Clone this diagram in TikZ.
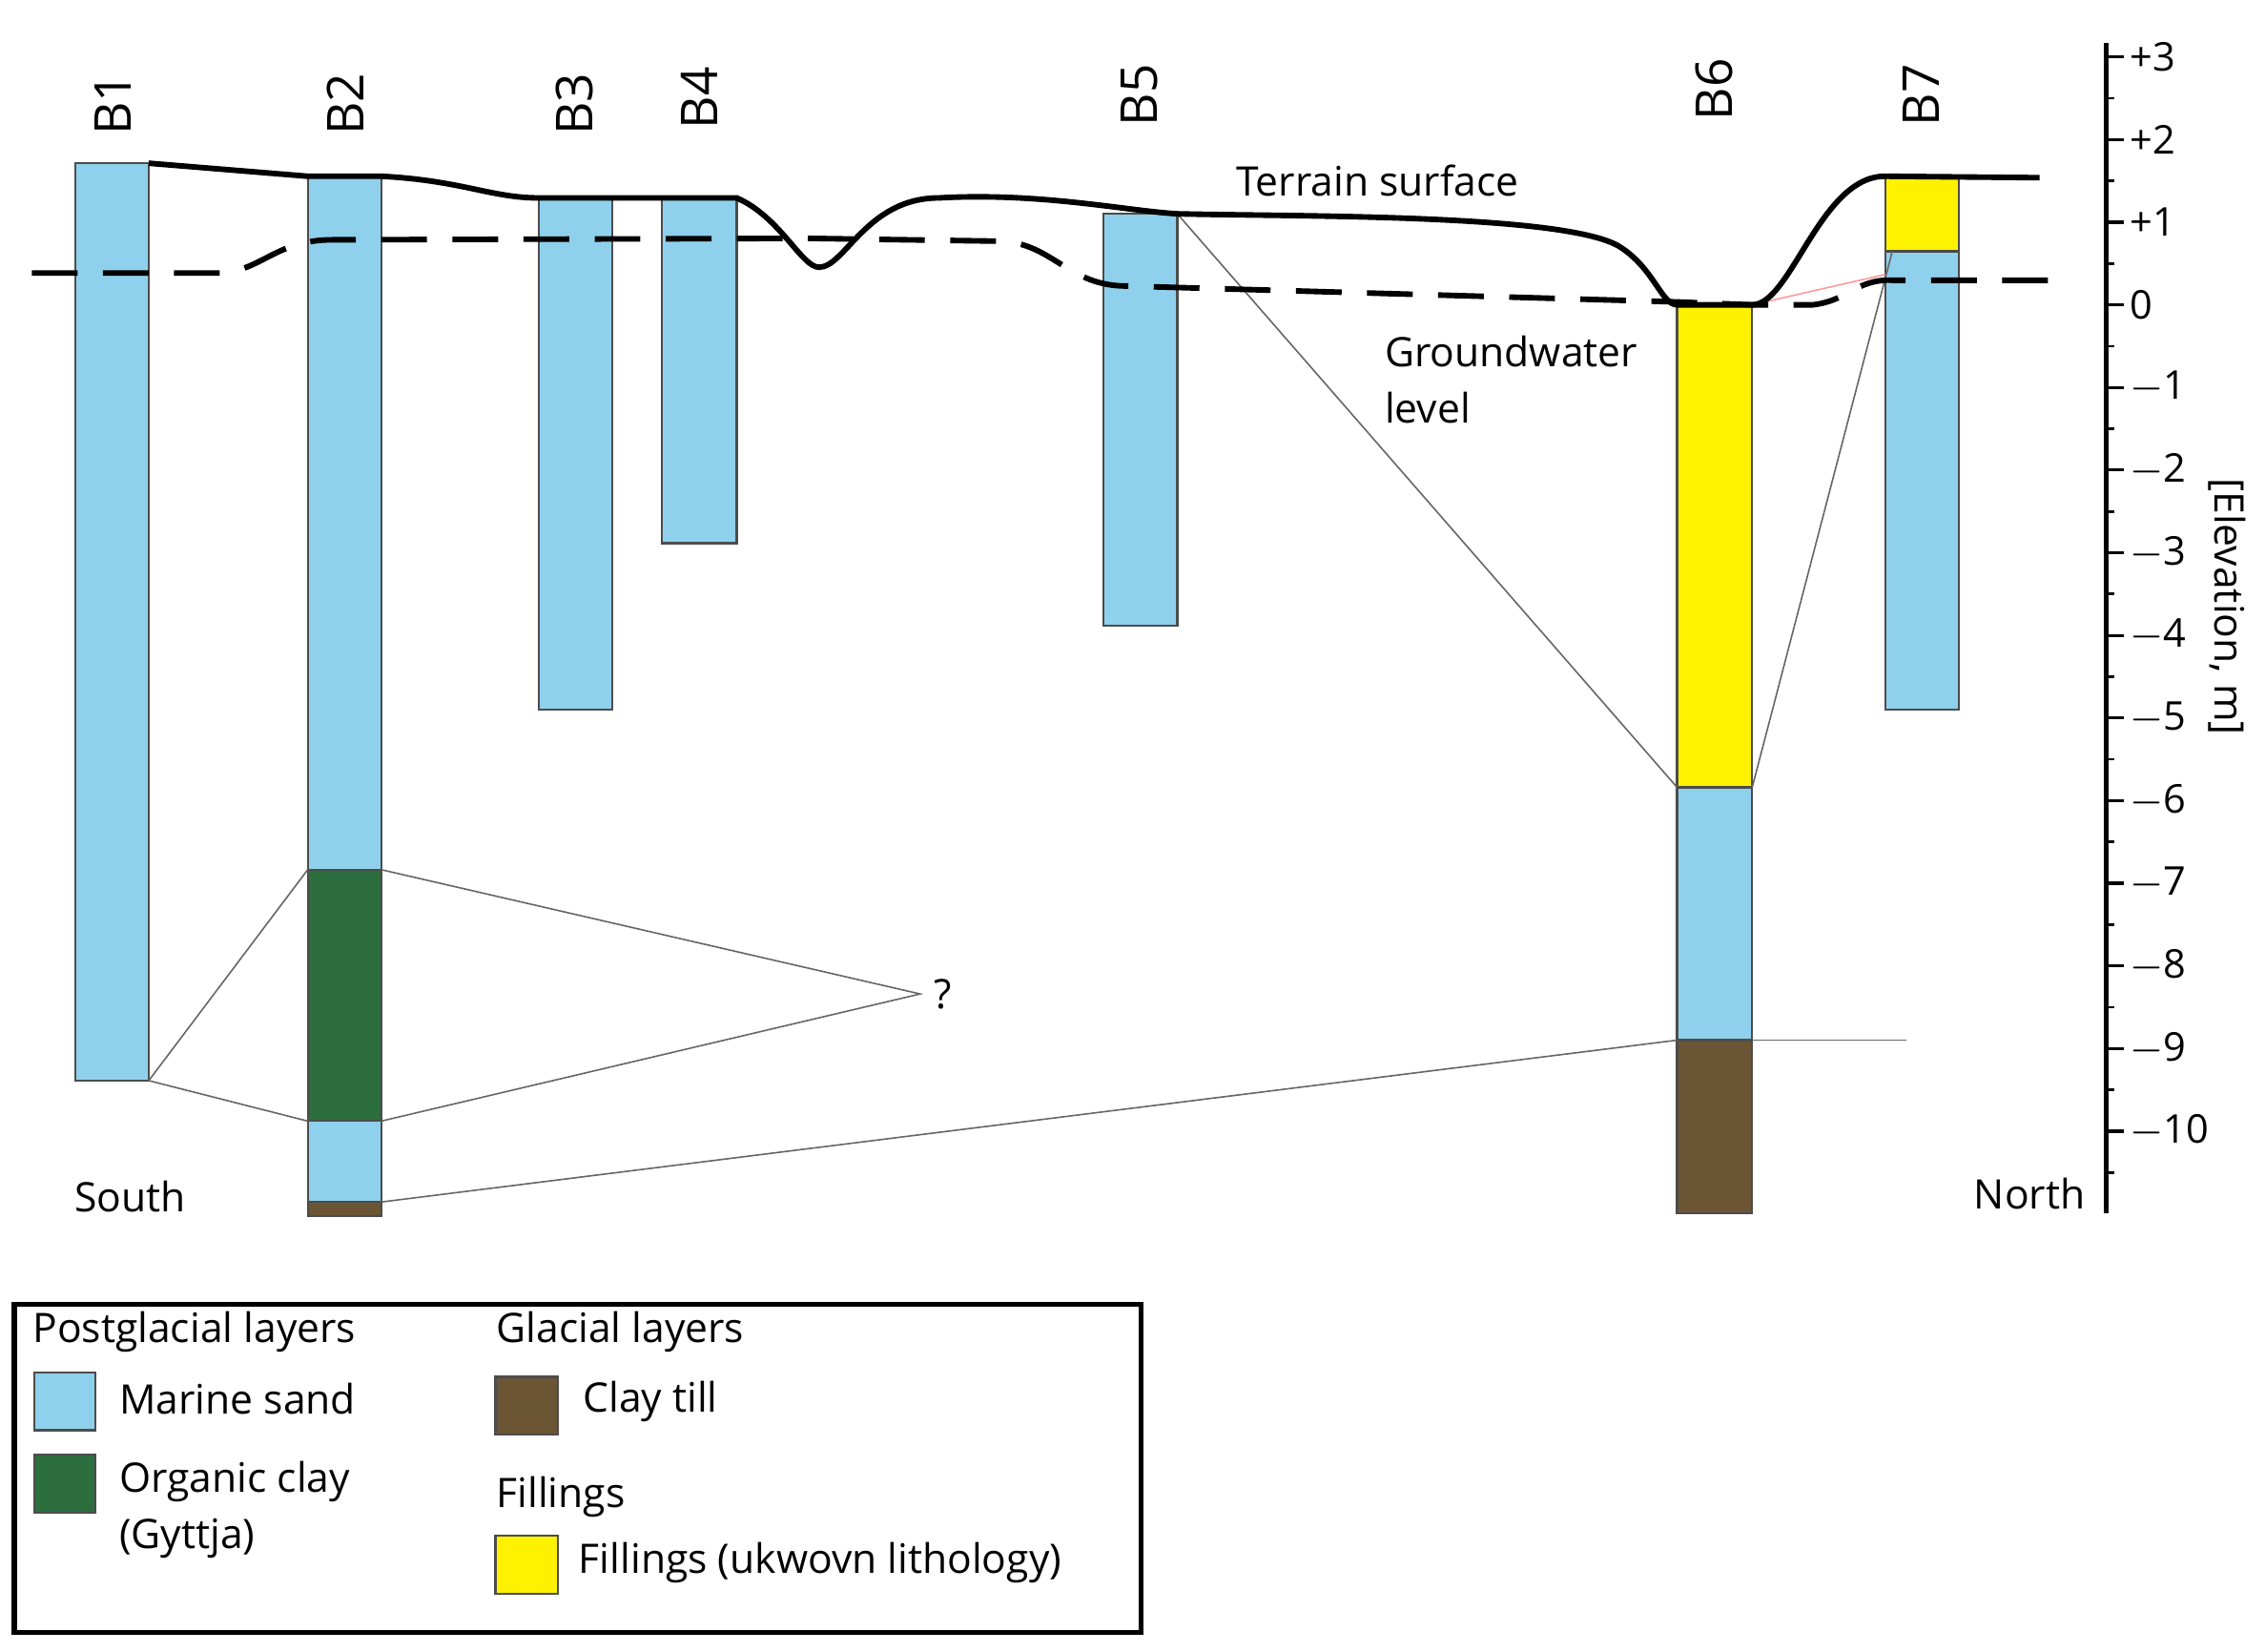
\documentclass[tikz,border=0pt]{standalone}
\usepackage{fontspec}
\setmainfont{Open Sans}
\definecolor{sand}{HTML}{8FD1EC}
\definecolor{gyt}{HTML}{2C6E3D}
\definecolor{till}{HTML}{6B5535}
\definecolor{fill}{HTML}{FFF200}
\begin{document}
\begin{tikzpicture}[x=0.01cm,y=-0.01cm,
  lay/.style={draw=black!70,line width=0.4pt},
  thin/.style={draw=black!60,line width=0.3pt},
  lbl/.style={font=\fontsize{10}{12}\selectfont,rotate=90,anchor=center},
  txt/.style={font=\fontsize{8}{11}\selectfont,inner sep=0pt},
  ax/.style={font=\fontsize{7.8}{9}\selectfont,anchor=west,inner sep=0pt}]
\useasboundingbox (0,0) rectangle (1568,1143);
% boreholes
\filldraw[lay,fill=sand] (52,113) rectangle (103,748);
\filldraw[lay,fill=sand] (213,122) rectangle (264,602);
\filldraw[lay,fill=gyt] (213,602) rectangle (264,776);
\filldraw[lay,fill=sand] (213,776) rectangle (264,832);
\filldraw[lay,fill=till] (213,832) rectangle (264,842);
\filldraw[lay,fill=sand] (373,137) rectangle (424,491);
\filldraw[lay,fill=sand] (458,137) rectangle (510,376);
\filldraw[lay,fill=sand] (764,148) rectangle (815,433);
\filldraw[lay,fill=fill] (1161,211) rectangle (1213,545);
\filldraw[lay,fill=sand] (1161,545) rectangle (1213,720);
\filldraw[lay,fill=till] (1161,720) rectangle (1213,840);
\filldraw[lay,fill=fill] (1305,122) rectangle (1356,174);
\filldraw[lay,fill=sand] (1305,174) rectangle (1356,491);
\node[lbl] (b1) at (78,72) {B1};
\node[lbl] (b2) at (239,72) {B2};
\node[lbl] (b3) at (398,72) {B3};
\node[lbl] (b4) at (484,68) {B4};
\node[lbl] (b5) at (789,66) {B5};
\node[lbl] (b6) at (1187,62) {B6};
\node[lbl] (b7) at (1330,66) {B7};
% correlation lines
\coordinate (p) at (637,688);
\draw[thin] (103,748) -- (213,602);
\draw[thin] (103,748) -- (213,776);
\draw[thin] (264,602) -- (p) -- (264,776);
\draw[thin] (264,832) -- (1161,720);
\draw[thin] (1213,720) -- (1320,720);
\draw[thin] (815,148) -- (1161,545);
\draw[thin] (1213,545) -- (1310,174);
\draw[thin,draw=red!40] (1213,211) -- (1305,190);
\node[txt,anchor=west] (q) at (646,688) {?};
% terrain
\draw[line width=1.1pt] (103,113) -- (213,122) -- (264,122) .. controls (320,125) and (340,137) .. (373,137) -- (510,137)
  .. controls (540,150) and (555,185) .. (567,185) .. controls (585,185) and (600,137) .. (650,137)
  .. controls (720,133) and (780,146) .. (815,148) .. controls (900,150) and (1080,148) .. (1120,170)
  .. controls (1145,185) and (1150,211) .. (1161,211) -- (1213,211)
  .. controls (1240,211) and (1260,122) .. (1305,122) -- (1412,123);
% groundwater
\draw[line width=1.1pt,dash pattern=on 9pt off 5pt] (22,189) -- (150,189) .. controls (180,189) and (190,166) .. (230,166)
  -- (560,165) -- (695,167) .. controls (730,170) and (740,198) .. (780,198) -- (1161,209) -- (1213,211)
  -- (1255,211) .. controls (1280,208) and (1285,193) .. (1310,194) -- (1418,194);
\node[txt,anchor=west] (ts) at (855,125) {Terrain surface};
\node[txt,anchor=north west,align=left] (gw) at (958,232) {Groundwater\\level};
\node[txt] (s) at (90,828) {South};
\node[txt] (n) at (1405,826) {North};
% axis
\draw[line width=1pt] (1458,30) -- (1458,840);
\foreach \e/\l in {3/+3,2/+2,1/+1,0/0,-1/$-$1,-2/$-$2,-3/$-$3,-4/$-$4,-5/$-$5,-6/$-$6,-7/$-$7,-8/$-$8,-9/$-$9,-10/$-$10}{
  \draw[line width=0.6pt] (1458,{211-57.2*\e}) -- (1470,{211-57.2*\e});
  \node[ax] at (1474,{211-57.2*\e}) {\l};}
\foreach \e in {2.5,1.5,0.5,-0.5,-1.5,-2.5,-3.5,-4.5,-5.5,-6.5,-7.5,-8.5,-9.5,-10.5}
  \draw[line width=0.5pt] (1458,{211-57.2*\e}) -- (1464,{211-57.2*\e});
\node[txt,rotate=-90] (el) at (1542,420) {[Elevation, m]};
% legend
\draw[line width=1pt] (10,903) rectangle (790,1130);
\node[txt,anchor=west] at (22,922) {Postglacial layers};
\filldraw[lay,fill=sand] (24,950) rectangle (66,990);
\node[txt,anchor=west] at (82,968) {Marine sand};
\filldraw[lay,fill=gyt] (24,1007) rectangle (66,1047);
\node[txt,anchor=west,align=left] at (82,1045) {Organic clay\\(Gyttja)};
\node[txt,anchor=west] at (343,922) {Glacial layers};
\filldraw[lay,fill=till] (343,953) rectangle (386,993);
\node[txt,anchor=west] at (403,970) {Clay till};
\node[txt,anchor=west] at (343,1036) {Fillings};
\filldraw[lay,fill=fill] (343,1063) rectangle (386,1103);
\node[txt,anchor=west] at (400,1082) {Fillings (ukwovn lithology)};
\end{tikzpicture}
\end{document}
